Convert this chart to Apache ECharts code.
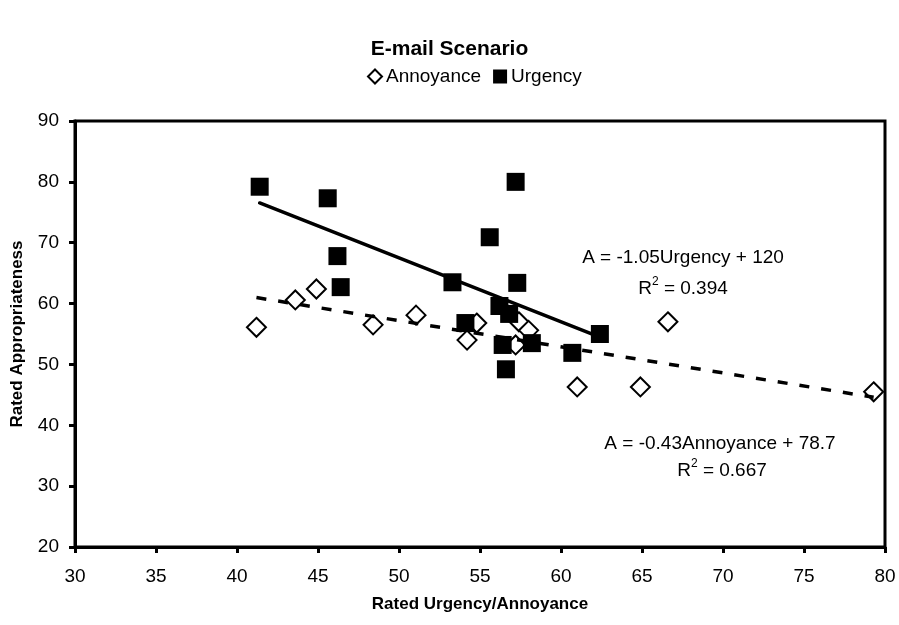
<!DOCTYPE html>
<html>
<head>
<meta charset="utf-8">
<script src="https://cdn.jsdelivr.net/npm/echarts@6/dist/echarts.min.js"></script>
<style>
html,body{margin:0;padding:0;background:#fff;}
#c{width:899px;height:625px;}
</style>
</head>
<body>
<div id="c"></div>
<script>
// ---- data ----
var annoyanceX = [41.2, 43.6, 44.9, 48.4, 51.05, 54.8, 54.2, 57.4, 58.0, 57.2, 61.0, 64.9, 66.6, 79.3];
var annoyanceY = [56.1, 60.6, 62.4, 56.5, 58.1, 56.8, 54.0, 57.0, 55.6, 53.2, 46.3, 46.3, 57.0, 45.5];
var urgencyX = [41.4, 45.6, 46.2, 46.4, 57.2, 55.6, 53.3, 57.3, 56.2, 56.8, 54.1, 56.4, 58.2, 56.6, 60.7, 62.4];
var urgencyY = [79.2, 77.3, 67.8, 62.7, 80.0, 70.9, 63.5, 63.4, 59.6, 58.3, 56.8, 53.2, 53.5, 49.2, 51.9, 55.0];
var urgencyFit = {slope: -1.05, intercept: 120};
var annoyanceFit = {slope: -0.43, intercept: 78.7};
var xTicks = {min: 30, max: 80, interval: 5};
var yTicks = {min: 20, max: 90, interval: 10};

function pairs(xs, ys){ return xs.map(function(x,i){ return [x, ys[i]]; }); }
function fitLine(xs, fit){
  var lo = Math.min.apply(null, xs), hi = Math.max.apply(null, xs);
  return [[lo, fit.slope*lo + fit.intercept], [hi, fit.slope*hi + fit.intercept]];
}

var FONT = '"Liberation Sans", Arial, sans-serif';
var richR2 = {
  n: {fontFamily: FONT, fontSize: 19, color: '#000', verticalAlign: 'bottom', lineHeight: 22},
  s: {fontFamily: FONT, fontSize: 12, color: '#000', verticalAlign: 'top', lineHeight: 22, padding: [0,0,10,0]}
};
var chart = echarts.init(document.getElementById('c'), null, {renderer:'canvas'});
chart.setOption({
  animation: false,
  backgroundColor: '#fff',
  textStyle: {fontFamily: FONT, color: '#000'},
  title: {
    text: 'E-mail Scenario', left: 'center', top: 34,
    textStyle: {fontFamily: FONT, fontSize: 21, fontWeight: 'bold', color: '#000'}
  },
  legend: {
    data: ['Annoyance', 'Urgency'], left: 362, top: 62,
    itemWidth: 14, itemHeight: 14, itemGap: 12,
    textStyle: {fontFamily: FONT, fontSize: 19, color: '#000', padding: [0,0,0,-1]}
  },
  grid: {left: 75, right: 14, top: 121, bottom: 78, show: true, borderColor: '#000', borderWidth: 3, backgroundColor: 'transparent'},
  xAxis: {
    type: 'value', min: xTicks.min, max: xTicks.max, interval: xTicks.interval,
    name: 'Rated Urgency/Annoyance', nameLocation: 'middle', nameGap: 49,
    nameTextStyle: {fontFamily: FONT, fontSize: 17, fontWeight: 'bold', color: '#000'},
    axisLine: {show: true, lineStyle: {color: '#000', width: 3}},
    axisTick: {show: true, length: 6, lineStyle: {color: '#000', width: 3}},
    axisLabel: {fontFamily: FONT, fontSize: 19, color: '#000', margin: 20},
    splitLine: {show: false}
  },
  yAxis: {
    type: 'value', min: yTicks.min, max: yTicks.max, interval: yTicks.interval,
    name: 'Rated Appropriateness', nameLocation: 'middle', nameGap: 49,
    nameTextStyle: {fontFamily: FONT, fontSize: 17, fontWeight: 'bold', color: '#000'},
    axisLine: {show: true, lineStyle: {color: '#000', width: 3}},
    axisTick: {show: true, length: 6, lineStyle: {color: '#000', width: 3}},
    axisLabel: {fontFamily: FONT, fontSize: 19, color: '#000', margin: 16},
    splitLine: {show: false}
  },
  series: [
    {
      name: 'Annoyance', type: 'scatter', symbol: 'diamond', symbolSize: 19, z: 2,
      itemStyle: {color: '#fff', borderColor: '#000', borderWidth: 2, opacity: 1},
      data: pairs(annoyanceX, annoyanceY)
    },
    {
      name: 'Urgency', type: 'scatter', symbol: 'rect', symbolSize: 18, z: 4,
      itemStyle: {color: '#000', opacity: 1},
      data: pairs(urgencyX, urgencyY)
    },
    {
      name: 'UrgencyFit', type: 'line', symbol: 'none', z: 3, silent: true,
      lineStyle: {color: '#000', width: 3.5, cap: 'round'},
      data: fitLine(urgencyX, urgencyFit)
    },
    {
      name: 'AnnoyanceFit', type: 'line', symbol: 'none', z: 3, silent: true,
      lineStyle: {color: '#000', width: 3.5, type: [10, 12]},
      data: fitLine(annoyanceX, annoyanceFit)
    }
  ],
  graphic: [
    {type: 'text', x: 683, y: 258, style: {text: 'A = -1.05Urgency + 120', fontFamily: FONT, fontSize: 19, fill: '#000', textAlign: 'center', textVerticalAlign: 'middle'}},
    {type: 'text', x: 683, y: 287, style: {text: '{n|R}{s|2}{n| = 0.394}', rich: richR2, textAlign: 'center', textVerticalAlign: 'middle'}},
    {type: 'text', x: 720, y: 444, style: {text: 'A = -0.43Annoyance + 78.7', fontFamily: FONT, fontSize: 19, fill: '#000', textAlign: 'center', textVerticalAlign: 'middle'}},
    {type: 'text', x: 722, y: 469, style: {text: '{n|R}{s|2}{n| = 0.667}', rich: richR2, textAlign: 'center', textVerticalAlign: 'middle'}}
  ]
});
</script>
</body>
</html>
